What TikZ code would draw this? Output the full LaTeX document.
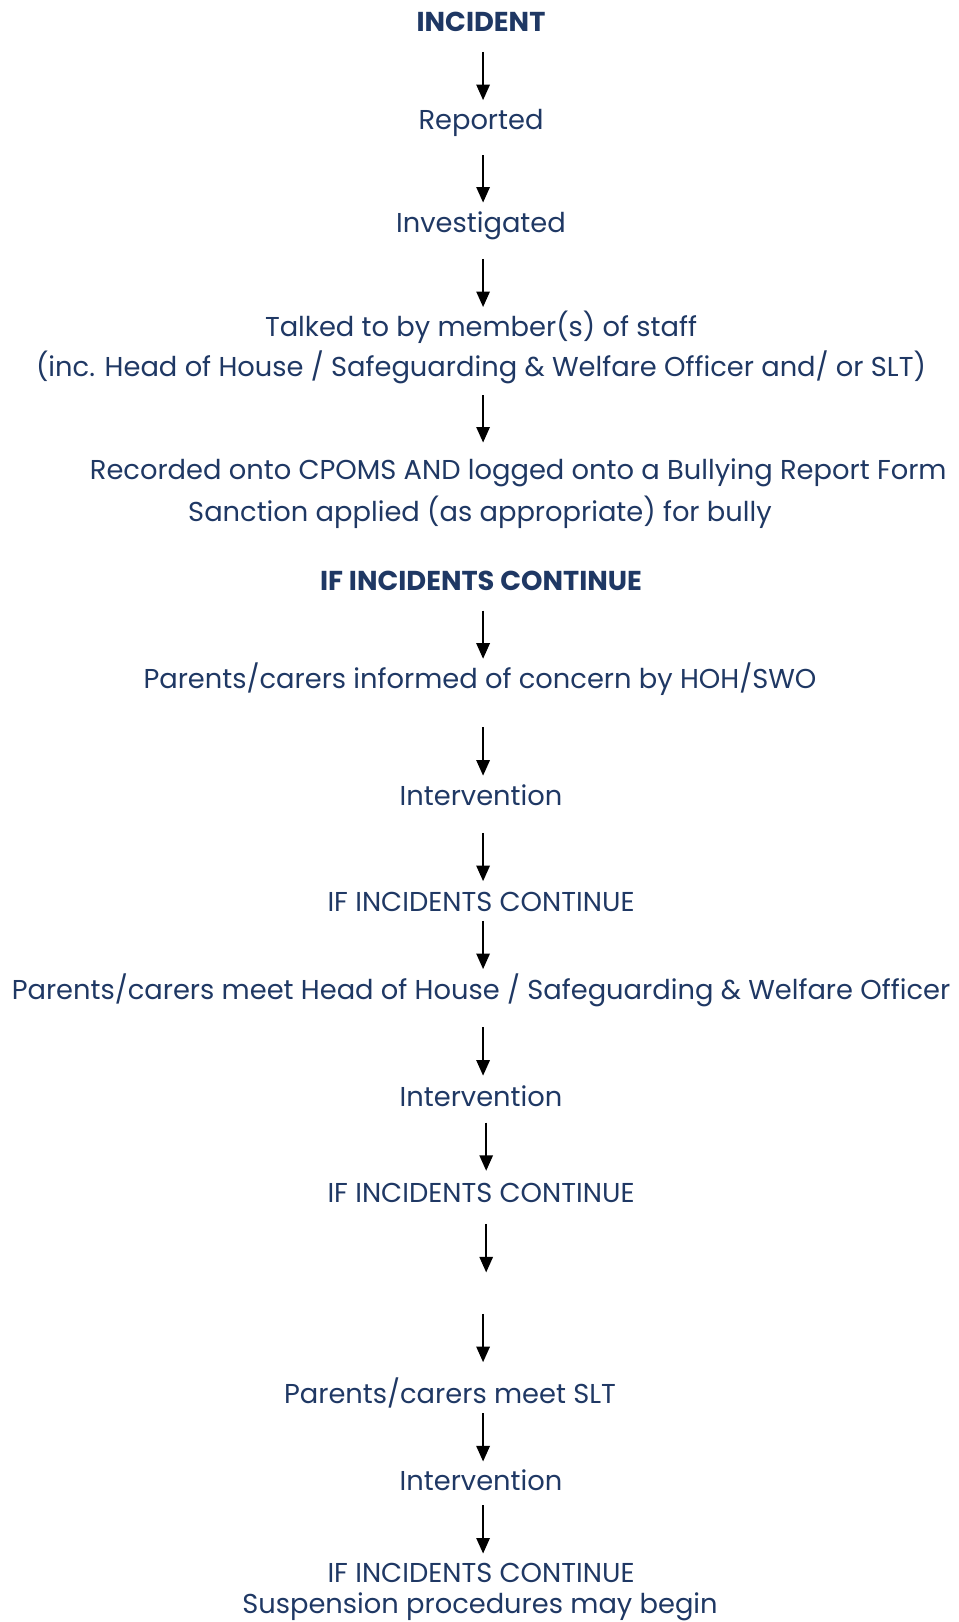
\documentclass[tikz,border=0pt]{standalone}
\usepackage{fontspec}
\setmainfont{Poppins}
\usetikzlibrary{arrows.meta}
\definecolor{navy}{HTML}{1F3864}
\tikzset{
  lbl/.style={font=\fontsize{26.4}{30}\selectfont, text=navy, inner sep=0pt,
    text height=20pt, text depth=6pt, anchor=base},
  hd/.style={lbl, font=\fontsize{26.4}{30}\selectfont\bfseries},
  arr/.style={-{Triangle[length=15pt,width=13pt]}, line width=1.5pt, black}
}
\begin{document}
\begin{tikzpicture}[x=1pt,y=-1pt]
    \useasboundingbox (0,0) rectangle (927,1568);
    \coordinate (ax) at (467,0);
    \coordinate (bx) at (470,0);
    %% first steps
    \node[hd]  (inc)   at (465,30)  {INCIDENT};
    \node[lbl] (rep)   at (465,125) {Reported};
    \node[lbl] (inv)   at (465,225) {Investigated};
    \node[lbl] (talk)  at (465,325) {Talked to by member(s) of staff};
    \node[lbl] (talkb) at (465,364) {(inc. Head of House / Safeguarding \& Welfare Officer and/ or SLT)};
    \node[lbl] (rec)   at (501,464) {Recorded onto CPOMS AND logged onto a Bullying Report Form};
    \node[lbl] (sanc)  at (464,504) {Sanction applied (as appropriate) for bully};
    \draw[arr, shorten <=14pt, shorten >=8pt] (inc.south -| ax) -- (rep.north -| ax);
    \draw[arr, shorten <=19pt, shorten >=9pt] (rep.south -| ax) -- (inv.north -| ax);
    \draw[arr, shorten <=19pt, shorten >=8pt] (inv.south -| ax) -- (talk.north -| ax);
    \draw[arr, shorten <=12pt, shorten >=16pt] (talkb.south -| ax) -- (rec.north -| ax);
    %% if incidents continue
    \node[hd]  (cont1) at (465,571)  {IF INCIDENTS CONTINUE};
    \node[lbl] (inf)   at (464,666)  {Parents/carers informed of concern by HOH/SWO};
    \node[lbl] (int1)  at (465,779)  {Intervention};
    \node[lbl] (cont2) at (465,881)  {IF INCIDENTS CONTINUE};
    \node[lbl] (meet)  at (465,966)  {Parents/carers meet Head of House / Safeguarding \& Welfare Officer};
    \node[lbl] (int2)  at (465,1070) {Intervention};
    \node[lbl] (cont3) at (465,1162) {IF INCIDENTS CONTINUE};
    \draw[arr, shorten <=13pt, shorten >=9pt] (cont1.south -| ax) -- (inf.north -| ax);
    \draw[arr, shorten <=31pt, shorten >=9pt] (inf.south -| ax) -- (int1.north -| ax);
    \draw[arr, shorten <=20pt, shorten >=9pt] (int1.south -| ax) -- (cont2.north -| ax);
    \draw[arr, shorten <=3pt, shorten >=9pt] (cont2.south -| ax) -- (meet.north -| ax);
    \draw[arr, shorten <=21pt, shorten >=10pt] (meet.south -| ax) -- (int2.north -| ax);
    \draw[arr, shorten <=9pt, shorten >=10pt] (int2.south -| bx) -- (cont3.north -| bx);
    %% SLT stage
    \coordinate (gap1) at (470,1230);
    \coordinate (gap2) at (467,1270);
    \node[lbl] (slt)   at (435,1357) {Parents/carers meet SLT};
    \node[lbl] (int3)  at (465,1441) {Intervention};
    \node[lbl] (cont4) at (465,1530) {IF INCIDENTS CONTINUE};
    \node[lbl] (susp)  at (464,1560) {Suspension procedures may begin};
    \draw[arr, shorten <=15pt] (cont3.south -| bx) -- (gap1);
    \draw[arr, shorten >=20pt] (gap2) -- (slt.north -| ax);
    \draw[arr, shorten <=3pt, shorten >=8pt] (slt.south -| ax) -- (int3.north -| ax);
    \draw[arr, shorten <=8pt, shorten >=8pt] (int3.south -| ax) -- (cont4.north -| ax);
\end{tikzpicture}
\end{document}
